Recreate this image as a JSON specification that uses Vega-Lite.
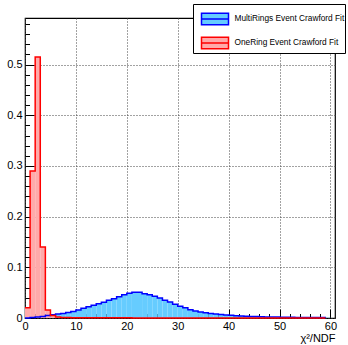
{
  "$schema": "https://vega.github.io/schema/vega-lite/v6.json",
  "width": 310,
  "height": 300,
  "autosize": "none",
  "padding": {"left": 25, "top": 18, "right": 13, "bottom": 27},
  "background": "white",
  "config": {
    "view": {"stroke": "black", "strokeWidth": 1.2},
    "font": "Liberation Sans"
  },
  "data": {
    "values": [
      {"series": "MultiRings Event Crawford Fit", "x0": 0, "x1": 1, "y": 0},
      {"series": "MultiRings Event Crawford Fit", "x0": 1, "x1": 2, "y": 0.001},
      {"series": "MultiRings Event Crawford Fit", "x0": 2, "x1": 3, "y": 0.002},
      {"series": "MultiRings Event Crawford Fit", "x0": 3, "x1": 4, "y": 0.003},
      {"series": "MultiRings Event Crawford Fit", "x0": 4, "x1": 5, "y": 0.005},
      {"series": "MultiRings Event Crawford Fit", "x0": 5, "x1": 6, "y": 0.0065},
      {"series": "MultiRings Event Crawford Fit", "x0": 6, "x1": 7, "y": 0.008},
      {"series": "MultiRings Event Crawford Fit", "x0": 7, "x1": 8, "y": 0.009},
      {"series": "MultiRings Event Crawford Fit", "x0": 8, "x1": 9, "y": 0.011},
      {"series": "MultiRings Event Crawford Fit", "x0": 9, "x1": 10, "y": 0.013},
      {"series": "MultiRings Event Crawford Fit", "x0": 10, "x1": 11, "y": 0.016},
      {"series": "MultiRings Event Crawford Fit", "x0": 11, "x1": 12, "y": 0.019},
      {"series": "MultiRings Event Crawford Fit", "x0": 12, "x1": 13, "y": 0.022},
      {"series": "MultiRings Event Crawford Fit", "x0": 13, "x1": 14, "y": 0.025},
      {"series": "MultiRings Event Crawford Fit", "x0": 14, "x1": 15, "y": 0.028},
      {"series": "MultiRings Event Crawford Fit", "x0": 15, "x1": 16, "y": 0.031},
      {"series": "MultiRings Event Crawford Fit", "x0": 16, "x1": 17, "y": 0.035},
      {"series": "MultiRings Event Crawford Fit", "x0": 17, "x1": 18, "y": 0.038},
      {"series": "MultiRings Event Crawford Fit", "x0": 18, "x1": 19, "y": 0.042},
      {"series": "MultiRings Event Crawford Fit", "x0": 19, "x1": 20, "y": 0.046},
      {"series": "MultiRings Event Crawford Fit", "x0": 20, "x1": 21, "y": 0.049},
      {"series": "MultiRings Event Crawford Fit", "x0": 21, "x1": 22, "y": 0.051},
      {"series": "MultiRings Event Crawford Fit", "x0": 22, "x1": 23, "y": 0.051},
      {"series": "MultiRings Event Crawford Fit", "x0": 23, "x1": 24, "y": 0.048},
      {"series": "MultiRings Event Crawford Fit", "x0": 24, "x1": 25, "y": 0.046},
      {"series": "MultiRings Event Crawford Fit", "x0": 25, "x1": 26, "y": 0.043},
      {"series": "MultiRings Event Crawford Fit", "x0": 26, "x1": 27, "y": 0.0395},
      {"series": "MultiRings Event Crawford Fit", "x0": 27, "x1": 28, "y": 0.035},
      {"series": "MultiRings Event Crawford Fit", "x0": 28, "x1": 29, "y": 0.0315},
      {"series": "MultiRings Event Crawford Fit", "x0": 29, "x1": 30, "y": 0.027},
      {"series": "MultiRings Event Crawford Fit", "x0": 30, "x1": 31, "y": 0.023},
      {"series": "MultiRings Event Crawford Fit", "x0": 31, "x1": 32, "y": 0.02},
      {"series": "MultiRings Event Crawford Fit", "x0": 32, "x1": 33, "y": 0.0165},
      {"series": "MultiRings Event Crawford Fit", "x0": 33, "x1": 34, "y": 0.014},
      {"series": "MultiRings Event Crawford Fit", "x0": 34, "x1": 35, "y": 0.012},
      {"series": "MultiRings Event Crawford Fit", "x0": 35, "x1": 36, "y": 0.0105},
      {"series": "MultiRings Event Crawford Fit", "x0": 36, "x1": 37, "y": 0.009},
      {"series": "MultiRings Event Crawford Fit", "x0": 37, "x1": 38, "y": 0.008},
      {"series": "MultiRings Event Crawford Fit", "x0": 38, "x1": 39, "y": 0.007},
      {"series": "MultiRings Event Crawford Fit", "x0": 39, "x1": 40, "y": 0.006},
      {"series": "MultiRings Event Crawford Fit", "x0": 40, "x1": 41, "y": 0.0052},
      {"series": "MultiRings Event Crawford Fit", "x0": 41, "x1": 42, "y": 0.0045},
      {"series": "MultiRings Event Crawford Fit", "x0": 42, "x1": 43, "y": 0.004},
      {"series": "MultiRings Event Crawford Fit", "x0": 43, "x1": 44, "y": 0.0036},
      {"series": "MultiRings Event Crawford Fit", "x0": 44, "x1": 45, "y": 0.0032},
      {"series": "MultiRings Event Crawford Fit", "x0": 45, "x1": 46, "y": 0.0028},
      {"series": "MultiRings Event Crawford Fit", "x0": 46, "x1": 47, "y": 0.0025},
      {"series": "MultiRings Event Crawford Fit", "x0": 47, "x1": 48, "y": 0.0022},
      {"series": "MultiRings Event Crawford Fit", "x0": 48, "x1": 49, "y": 0.002},
      {"series": "MultiRings Event Crawford Fit", "x0": 49, "x1": 50, "y": 0.0018},
      {"series": "MultiRings Event Crawford Fit", "x0": 50, "x1": 51, "y": 0.0016},
      {"series": "MultiRings Event Crawford Fit", "x0": 51, "x1": 52, "y": 0.0014},
      {"series": "MultiRings Event Crawford Fit", "x0": 52, "x1": 53, "y": 0.0013},
      {"series": "MultiRings Event Crawford Fit", "x0": 53, "x1": 54, "y": 0.0012},
      {"series": "MultiRings Event Crawford Fit", "x0": 54, "x1": 55, "y": 0.0011},
      {"series": "MultiRings Event Crawford Fit", "x0": 55, "x1": 56, "y": 0.001},
      {"series": "MultiRings Event Crawford Fit", "x0": 56, "x1": 57, "y": 0.0009},
      {"series": "MultiRings Event Crawford Fit", "x0": 57, "x1": 58, "y": 0.0008},
      {"series": "MultiRings Event Crawford Fit", "x0": 58, "x1": 59, "y": 0.0008},
      {"series": "MultiRings Event Crawford Fit", "x0": 59, "x1": 60, "y": 0.0007},
      {"series": "OneRing Event Crawford Fit", "x0": 0, "x1": 1, "y": 0.02},
      {"series": "OneRing Event Crawford Fit", "x0": 1, "x1": 2, "y": 0.29},
      {"series": "OneRing Event Crawford Fit", "x0": 2, "x1": 3, "y": 0.515},
      {"series": "OneRing Event Crawford Fit", "x0": 3, "x1": 4, "y": 0.14},
      {"series": "OneRing Event Crawford Fit", "x0": 4, "x1": 5, "y": 0.016},
      {"series": "OneRing Event Crawford Fit", "x0": 5, "x1": 6, "y": 0.005},
      {"series": "OneRing Event Crawford Fit", "x0": 6, "x1": 7, "y": 0.002},
      {"series": "OneRing Event Crawford Fit", "x0": 7, "x1": 8, "y": 0.001},
      {"series": "OneRing Event Crawford Fit", "x0": 8, "x1": 9, "y": 0.0008},
      {"series": "OneRing Event Crawford Fit", "x0": 9, "x1": 10, "y": 0.0007},
      {"series": "OneRing Event Crawford Fit", "x0": 10, "x1": 11, "y": 0.0006},
      {"series": "OneRing Event Crawford Fit", "x0": 11, "x1": 12, "y": 0.0005},
      {"series": "OneRing Event Crawford Fit", "x0": 12, "x1": 13, "y": 0.0005},
      {"series": "OneRing Event Crawford Fit", "x0": 13, "x1": 14, "y": 0.0004},
      {"series": "OneRing Event Crawford Fit", "x0": 14, "x1": 15, "y": 0.0004},
      {"series": "OneRing Event Crawford Fit", "x0": 15, "x1": 16, "y": 0.0004},
      {"series": "OneRing Event Crawford Fit", "x0": 16, "x1": 17, "y": 0.0003},
      {"series": "OneRing Event Crawford Fit", "x0": 17, "x1": 18, "y": 0.0003},
      {"series": "OneRing Event Crawford Fit", "x0": 18, "x1": 19, "y": 0.0003},
      {"series": "OneRing Event Crawford Fit", "x0": 19, "x1": 20, "y": 0.0003},
      {"series": "OneRing Event Crawford Fit", "x0": 20, "x1": 21, "y": 0.0003},
      {"series": "OneRing Event Crawford Fit", "x0": 21, "x1": 22, "y": 0.0002},
      {"series": "OneRing Event Crawford Fit", "x0": 22, "x1": 23, "y": 0.0002},
      {"series": "OneRing Event Crawford Fit", "x0": 23, "x1": 24, "y": 0.0002},
      {"series": "OneRing Event Crawford Fit", "x0": 24, "x1": 25, "y": 0.0002},
      {"series": "OneRing Event Crawford Fit", "x0": 25, "x1": 26, "y": 0.0002},
      {"series": "OneRing Event Crawford Fit", "x0": 26, "x1": 27, "y": 0.0002},
      {"series": "OneRing Event Crawford Fit", "x0": 27, "x1": 28, "y": 0.0002},
      {"series": "OneRing Event Crawford Fit", "x0": 28, "x1": 29, "y": 0.0002},
      {"series": "OneRing Event Crawford Fit", "x0": 29, "x1": 30, "y": 0.0002},
      {"series": "OneRing Event Crawford Fit", "x0": 30, "x1": 31, "y": 0.0001},
      {"series": "OneRing Event Crawford Fit", "x0": 31, "x1": 32, "y": 0.0001},
      {"series": "OneRing Event Crawford Fit", "x0": 32, "x1": 33, "y": 0.0001},
      {"series": "OneRing Event Crawford Fit", "x0": 33, "x1": 34, "y": 0.0001},
      {"series": "OneRing Event Crawford Fit", "x0": 34, "x1": 35, "y": 0.0001},
      {"series": "OneRing Event Crawford Fit", "x0": 35, "x1": 36, "y": 0.0001},
      {"series": "OneRing Event Crawford Fit", "x0": 36, "x1": 37, "y": 0.0001},
      {"series": "OneRing Event Crawford Fit", "x0": 37, "x1": 38, "y": 0.0001},
      {"series": "OneRing Event Crawford Fit", "x0": 38, "x1": 39, "y": 0.0001},
      {"series": "OneRing Event Crawford Fit", "x0": 39, "x1": 40, "y": 0.0001},
      {"series": "OneRing Event Crawford Fit", "x0": 40, "x1": 41, "y": 0.0001},
      {"series": "OneRing Event Crawford Fit", "x0": 41, "x1": 42, "y": 0.0001},
      {"series": "OneRing Event Crawford Fit", "x0": 42, "x1": 43, "y": 0.0001},
      {"series": "OneRing Event Crawford Fit", "x0": 43, "x1": 44, "y": 0.0001},
      {"series": "OneRing Event Crawford Fit", "x0": 44, "x1": 45, "y": 0.0001},
      {"series": "OneRing Event Crawford Fit", "x0": 45, "x1": 46, "y": 0.0001},
      {"series": "OneRing Event Crawford Fit", "x0": 46, "x1": 47, "y": 0.0001},
      {"series": "OneRing Event Crawford Fit", "x0": 47, "x1": 48, "y": 0.0001},
      {"series": "OneRing Event Crawford Fit", "x0": 48, "x1": 49, "y": 0.0001},
      {"series": "OneRing Event Crawford Fit", "x0": 49, "x1": 50, "y": 0.0001},
      {"series": "OneRing Event Crawford Fit", "x0": 50, "x1": 51, "y": 0.0001},
      {"series": "OneRing Event Crawford Fit", "x0": 51, "x1": 52, "y": 0.0001},
      {"series": "OneRing Event Crawford Fit", "x0": 52, "x1": 53, "y": 0.0001},
      {"series": "OneRing Event Crawford Fit", "x0": 53, "x1": 54, "y": 0.0001},
      {"series": "OneRing Event Crawford Fit", "x0": 54, "x1": 55, "y": 0.0001},
      {"series": "OneRing Event Crawford Fit", "x0": 55, "x1": 56, "y": 0.0001},
      {"series": "OneRing Event Crawford Fit", "x0": 56, "x1": 57, "y": 0.0001},
      {"series": "OneRing Event Crawford Fit", "x0": 57, "x1": 58, "y": 0.0001},
      {"series": "OneRing Event Crawford Fit", "x0": 58, "x1": 59, "y": 0.0001},
      {"series": "OneRing Event Crawford Fit", "x0": 59, "x1": 60, "y": 0.0001}
    ]
  },
  "encoding": {
    "x": {
      "field": "x0",
      "type": "quantitative",
      "scale": {"domain": [0, 60.9], "nice": false, "zero": false},
      "axis": {
        "title": "χ²/NDF",
        "titleAnchor": "end",
        "titleAlign": "right",
        "titleFontSize": 11,
        "titleFontWeight": "normal",
        "titleColor": "black",
        "titlePadding": -3,
        "titleFont": "Liberation Sans",
        "values": [0, 2, 4, 6, 8, 10, 12, 14, 16, 18, 20, 22, 24, 26, 28, 30, 32, 34, 36, 38, 40, 42, 44, 46, 48, 50, 52, 54, 56, 58, 60],
        "labelExpr": "datum.value % 10 === 0 ? format(datum.value, 'd') : ''",
        "labelFont": "Liberation Sans",
        "labelFontSize": 11,
        "labelColor": "black",
        "labelPadding": 11,
        "labelFlush": false,
        "labelOverlap": false,
        "domain": false,
        "tickColor": "black",
        "tickSize": {"condition": {"test": "datum.value % 10 === 0", "value": -9}, "value": -4.5},
        "grid": true,
        "gridColor": "#444",
        "gridDash": [1, 2],
        "gridOpacity": {"condition": {"test": "datum.value % 10 === 0", "value": 1}, "value": 0}
      }
    },
    "y": {
      "field": "y",
      "type": "quantitative",
      "scale": {"domain": [0, 0.592], "nice": false},
      "axis": {
        "title": null,
        "values": [0, 0.02, 0.04, 0.06, 0.08, 0.1, 0.12, 0.14, 0.16, 0.18, 0.2, 0.22, 0.24, 0.26, 0.28, 0.3, 0.32, 0.34, 0.36, 0.38, 0.4, 0.42, 0.44, 0.46, 0.48, 0.5, 0.52, 0.54, 0.56, 0.58],
        "labelExpr": "abs(datum.value * 10 - round(datum.value * 10)) < 0.001 ? (datum.value === 0 ? '0' : format(datum.value, '.1f')) : ''",
        "labelFont": "Liberation Sans",
        "labelFontSize": 11,
        "labelColor": "black",
        "labelPadding": 12,
        "labelFlush": false,
        "labelOverlap": false,
        "domain": false,
        "tickColor": "black",
        "tickSize": {"condition": {"test": "abs(datum.value * 10 - round(datum.value * 10)) < 0.001", "value": -9}, "value": -4.5},
        "grid": true,
        "gridColor": "#444",
        "gridDash": [1, 2],
        "gridOpacity": {"condition": {"test": "abs(datum.value * 10 - round(datum.value * 10)) < 0.001", "value": 1}, "value": 0}
      }
    }
  },
  "layer": [
    {
      "mark": {"type": "rect", "strokeWidth": 0},
      "encoding": {
        "x2": {"field": "x1"},
        "y2": {"datum": 0},
        "fill": {
          "field": "series",
          "type": "nominal",
          "scale": {"domain": ["MultiRings Event Crawford Fit", "OneRing Event Crawford Fit"], "range": ["#66ccff", "#ffaaaa"]},
          "legend": {
            "orient": "none", "legendX": 168, "legendY": -14, "title": null,
            "fillColor": "white", "strokeColor": "black", "padding": 0.5,
            "symbolType": "M-1,-0.43H1V0.43H-1Z M-1,0H1", "symbolSize": 729, "symbolStrokeWidth": 1.5,
            "symbolOffset": 7, "labelOffset": 5, "labelFontSize": 8.3, "labelFont": "Liberation Sans",
            "labelExpr": "datum.label + '\u00a0\u00a0\u00a0'",
            "labelColor": "black", "rowPadding": -4, "symbolOpacity": 1
          }
        }
      }
    },
    {
      "mark": {"type": "line", "interpolate": "step-after", "strokeWidth": 1.5},
      "encoding": {
        "stroke": {
          "field": "series",
          "type": "nominal",
          "scale": {"domain": ["MultiRings Event Crawford Fit", "OneRing Event Crawford Fit"], "range": ["#0000ff", "#ff0000"]},
          "legend": {
            "orient": "none", "legendX": 168, "legendY": -14, "title": null,
            "fillColor": "white", "strokeColor": "black", "padding": 0.5,
            "symbolType": "M-1,-0.43H1V0.43H-1Z M-1,0H1", "symbolSize": 729, "symbolStrokeWidth": 1.5,
            "symbolOffset": 7, "labelOffset": 5, "labelFontSize": 8.3, "labelFont": "Liberation Sans",
            "labelExpr": "datum.label + '\u00a0\u00a0\u00a0'",
            "labelColor": "black", "rowPadding": -4, "symbolOpacity": 1
          }
        }
      }
    }
  ]
}
